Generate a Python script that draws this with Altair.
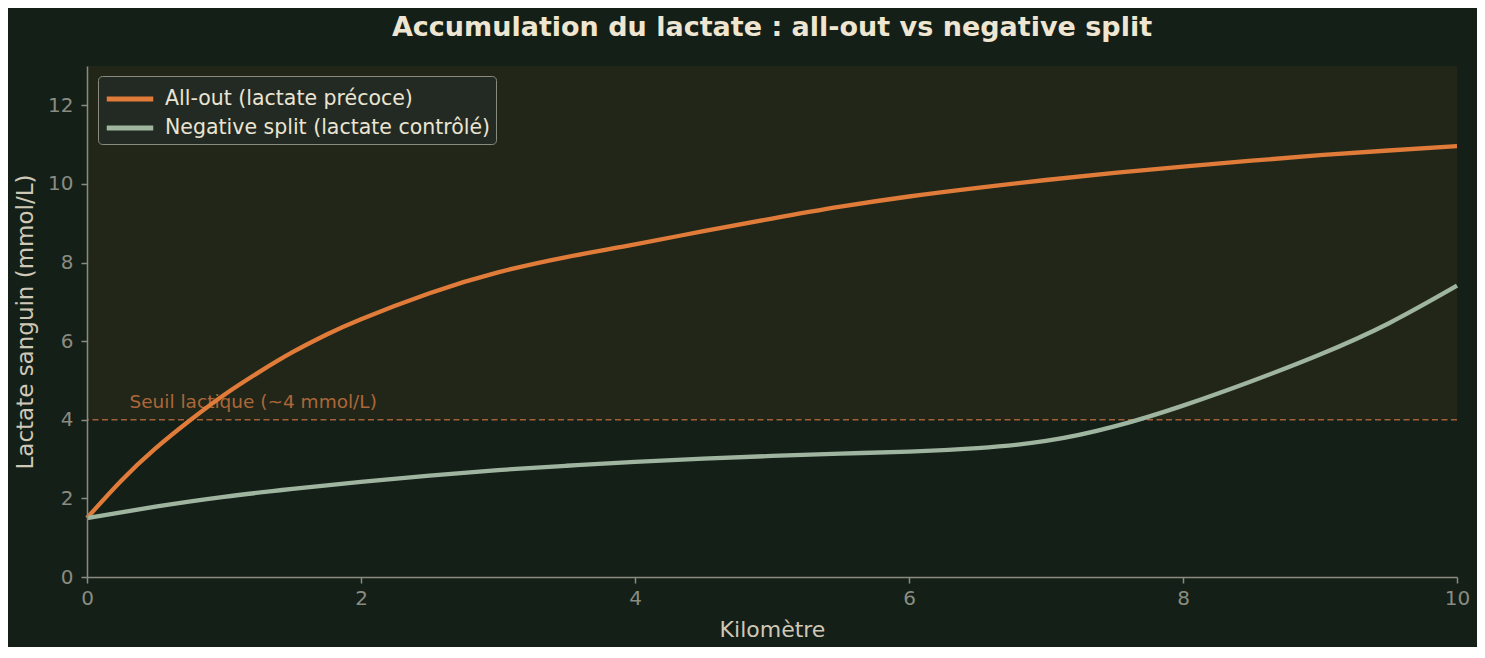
import altair as alt
import pandas as pd

# Data
km_allout = [0, 0.25, 0.5, 0.75, 1, 1.25, 1.5, 1.75, 2, 2.5, 3, 3.5, 4, 4.5, 5, 5.5, 6, 6.5, 7, 7.5, 8, 8.5, 9, 9.5, 10]
lac_allout = [1.5, 2.45, 3.27, 3.98, 4.63, 5.2, 5.72, 6.17, 6.56, 7.22, 7.75, 8.14, 8.46, 8.8, 9.12, 9.42, 9.68, 9.9, 10.1, 10.28, 10.44, 10.59, 10.73, 10.85, 10.96]

km_neg = [0, 0.5, 1, 1.5, 2, 2.5, 3, 3.5, 4, 4.5, 5, 5.5, 6, 6.5, 7, 7.5, 8, 8.5, 9, 9.5, 10]
lac_neg = [1.5, 1.79, 2.04, 2.24, 2.42, 2.58, 2.72, 2.83, 2.93, 3.01, 3.08, 3.14, 3.19, 3.28, 3.46, 3.83, 4.36, 4.98, 5.66, 6.45, 7.41]

series_names = ["All-out (lactate précoce)", "Negative split (lactate contrôlé)"]
series_colors = ["#e07b39", "#9fb5a0"]

threshold = 4
threshold_label = "Seuil lactique (~4 mmol/L)"
x_ticks = [0, 2, 4, 6, 8, 10]
y_ticks = [0, 2, 4, 6, 8, 10, 12]

df = pd.concat([
    pd.DataFrame({"km": km_allout, "lactate": lac_allout, "serie": series_names[0]}),
    pd.DataFrame({"km": km_neg, "lactate": lac_neg, "serie": series_names[1]}),
])

FONT = "DejaVu Sans"
BG = "#141f18"
AXIS = "#8a8c80"

xscale = alt.Scale(domain=[0, 10], nice=False, zero=False)
yscale = alt.Scale(domain=[0, 13], nice=False)

xaxis = alt.Axis(title="Kilomètre", values=x_ticks, format="d", grid=False, zindex=1, labelFlush=False)
yaxis = alt.Axis(title="Lactate sanguin (mmol/L)", values=y_ticks, format="d", grid=False, zindex=1, labelFlush=False)

dummy = pd.DataFrame({"a": [0]})

zone = alt.Chart(dummy).mark_rect(color="#212619").encode(
    x=alt.X(datum=0, type="quantitative", scale=xscale, axis=xaxis),
    x2=alt.X2(datum=10),
    y=alt.Y(datum=threshold, type="quantitative", scale=yscale, axis=yaxis),
    y2=alt.Y2(datum=13),
)

rule = alt.Chart(dummy).mark_rule(color="#a35f36", strokeWidth=1.5, strokeDash=[6, 3.5]).encode(
    y=alt.Y(datum=threshold, type="quantitative"),
)

label = alt.Chart(dummy).mark_text(
    text=threshold_label, align="left", baseline="alphabetic", dy=-12,
    color="#ad6638", font=FONT, fontSize=18.5,
).encode(
    x=alt.X(datum=0.31, type="quantitative"),
    y=alt.Y(datum=threshold, type="quantitative"),
)

lines = alt.Chart(df).mark_line(strokeWidth=4.3, interpolate="natural").encode(
    x=alt.X("km:Q", scale=xscale, axis=xaxis),
    y=alt.Y("lactate:Q", scale=yscale, axis=yaxis),
    color=alt.Color(
        "serie:N",
        scale=alt.Scale(domain=series_names, range=series_colors),
        sort=series_names,
        legend=alt.Legend(
            title=None, orient="none", legendX=11, legendY=10,
            symbolType="M-1.5,0L1.5,0", symbolSize=961, symbolStrokeWidth=5,
            symbolOffset=9, labelOffset=17, rowPadding=0, padding=5,
            labelFontSize=20.5, labelColor="#ebe4d2", labelFont=FONT, labelLimit=600,
            fillColor="#222a23", strokeColor="#8a8a7e", cornerRadius=4,
        ),
    ),
)

chart = alt.layer(zone, rule, label, lines).properties(
    width=1370,
    height=511,
    padding={"left": 79, "top": 58, "right": 20, "bottom": 70},
    autosize=alt.AutoSizeParams(type="none"),
    background=BG,
    title=alt.Title(
        "Accumulation du lactate : all-out vs negative split",
        font=FONT, fontSize=27, fontWeight="bold", color="#efe6d2",
        anchor="middle", offset=24,
    ),
).configure_view(stroke=None).configure_axis(
    domainColor=AXIS, tickColor=AXIS, labelColor=AXIS, titleColor="#cfc8b6",
    labelFont=FONT, titleFont=FONT, labelFontSize=20,
    titleFontWeight="normal", tickSize=6, domainWidth=1.5, tickWidth=1.5,
).configure_axisY(titlePadding=10, labelPadding=8, titleFontSize=23).configure_axisX(
    titlePadding=11, labelPadding=5, titleFontSize=22
)

chart.save("out.html", embed_options={"renderer": "svg", "actions": False})
